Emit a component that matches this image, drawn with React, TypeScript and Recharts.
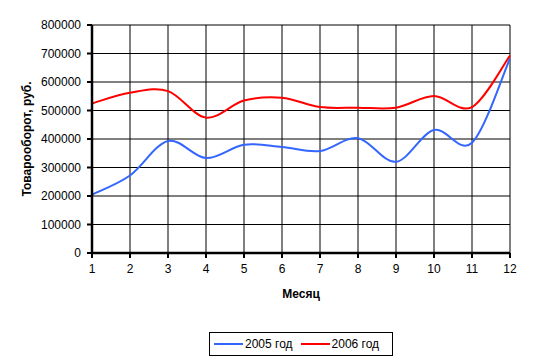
import * as React from "react";
import {
  LineChart,
  Line,
  XAxis,
  YAxis,
  CartesianGrid,
  Legend,
} from "recharts";

const months = ["1", "2", "3", "4", "5", "6", "7", "8", "9", "10", "11", "12"];
const sales2005 = [205000, 272000, 393000, 333000, 380000, 372000, 358000, 403000, 320000, 432000, 387000, 683000];
const sales2006 = [525000, 562000, 568000, 475000, 535000, 545000, 512000, 510000, 510000, 551000, 512000, 693000];
const yTicks = [0, 100000, 200000, 300000, 400000, 500000, 600000, 700000, 800000];

const data = months.map((m, i) => ({ month: m, s2005: sales2005[i], s2006: sales2006[i] }));

// smoothed line like the spreadsheet one (catmull-rom through the points)
const smooth = (context: any) => {
  let pts: number[][] = [];
  return {
    areaStart() {},
    areaEnd() {},
    lineStart() {
      pts = [];
    },
    point(x: number, y: number) {
      pts.push([+x, +y]);
    },
    lineEnd() {
      if (!pts.length) return;
      context.moveTo(pts[0][0], pts[0][1]);
      for (let i = 0; i < pts.length - 1; i++) {
        const p0 = pts[i - 1] || pts[i];
        const p1 = pts[i];
        const p2 = pts[i + 1];
        const p3 = pts[i + 2] || p2;
        context.bezierCurveTo(
          p1[0] + (p2[0] - p0[0]) / 6,
          p1[1] + (p2[1] - p0[1]) / 6,
          p2[0] - (p3[0] - p1[0]) / 6,
          p2[1] - (p3[1] - p1[1]) / 6,
          p2[0],
          p2[1]
        );
      }
    },
  };
};

const font = "'Liberation Sans', Arial, sans-serif";

function LegendBox() {
  const item = (color: string, label: string) => (
    <span style={{ display: "inline-flex", alignItems: "center", marginRight: 8 }}>
      <span style={{ display: "inline-block", width: 29, height: 2, background: color, marginRight: 2 }} />
      <span>{label}</span>
    </span>
  );
  return (
    <div
      style={{
        border: "1px solid #000",
        boxSizing: "border-box",
        width: 184,
        height: 24,
        display: "flex",
        alignItems: "center",
        paddingLeft: 4,
        fontSize: 12,
        fontFamily: font,
        color: "#000",
        background: "#fff",
        whiteSpace: "nowrap",
      }}
    >
      {item("#3366FF", "2005 год")}
      {item("#FF0000", "2006 год")}
    </div>
  );
}

export default function App() {
  return (
    <div style={{ position: "absolute", left: 0, top: 0, width: 537, height: 364, background: "#fff" }}>
      <LineChart
        width={537}
        height={364}
        data={data}
        margin={{ top: 25, right: 27, bottom: 71, left: 0 }}
        style={{ fontFamily: font }}
      >
        <CartesianGrid stroke="#000" strokeWidth={1} />
        <XAxis
          dataKey="month"
          height={40}
          tick={{ fill: "#000", fontSize: 12 }}
          tickSize={5}
          tickMargin={6}
          tickLine={{ stroke: "#000", strokeWidth: 2 }}
          axisLine={{ stroke: "#000", strokeWidth: 2.5 }}
          label={{
            value: "Месяц",
            position: "insideTop",
            offset: 36,
            style: { fontWeight: "bold", fontSize: 12, fill: "#000" },
          }}
        />
        <YAxis
          width={92}
          domain={[0, 800000]}
          ticks={yTicks}
          interval={0}
          tick={{ fill: "#000", fontSize: 12 }}
          tickSize={5}
          tickMargin={6}
          tickLine={{ stroke: "#000", strokeWidth: 2 }}
          axisLine={{ stroke: "#000", strokeWidth: 2.5 }}
          label={{
            value: "Товарооборот, руб.",
            angle: -90,
            position: "insideLeft",
            offset: 27,
            style: { fontWeight: "bold", fontSize: 12, fill: "#000", textAnchor: "middle" },
          }}
        />
        <Line
          dataKey="s2005"
          name="2005 год"
          type={smooth as any}
          stroke="#3366FF"
          strokeWidth={2}
          dot={false}
          isAnimationActive={false}
        />
        <Line
          dataKey="s2006"
          name="2006 год"
          type={smooth as any}
          stroke="#FF0000"
          strokeWidth={2}
          dot={false}
          isAnimationActive={false}
        />
        <Legend
          layout="vertical"
          align="center"
          verticalAlign="middle"
          content={() => <LegendBox />}
          wrapperStyle={{ left: 209, top: 332, width: 184, height: 24 }}
        />
      </LineChart>
    </div>
  );
}
